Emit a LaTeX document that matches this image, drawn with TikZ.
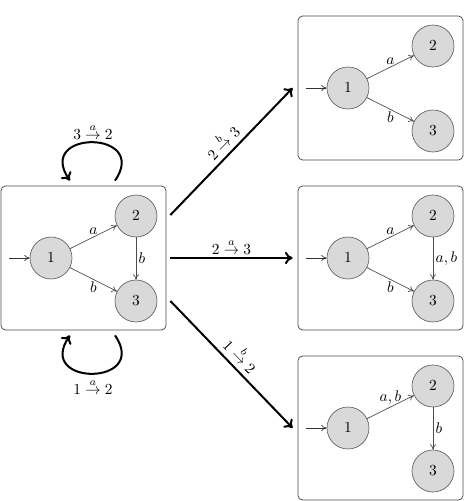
\documentclass[tikz,border=0pt]{standalone}
\usetikzlibrary{arrows.meta,calc}
\begin{document}
\begin{tikzpicture}[x=0.65pt,y=-0.65pt,
  st/.style={circle,draw=black!65,fill=gray!30,minimum size=27.3pt,inner sep=0pt},
  tr/.style={draw=black!70,-{To[length=3.5pt,width=4pt]},line width=0.45pt},
  ini/.style={draw=black!80,-{To[length=3.5pt,width=4pt]},line width=0.45pt},
  box/.style={draw=black!70,rounded corners=3pt,minimum width=107.25pt,minimum height=93.6pt,inner sep=0pt,line width=0.5pt},
  big/.style={draw=black,line width=1.3pt,-{To[length=5pt,width=8pt]}},
  lab/.style={inner sep=1.5pt,font=\normalsize},
  slab/.style={inner sep=3pt,font=\normalsize}]
\useasboundingbox (0,0) rectangle (467,501);
% boxes
\node[box] (L) at (83.5,258) {};
\node[box] (A) at (380.5,88) {};
\node[box] (B) at (380.5,258) {};
\node[box] (C) at (380.5,428) {};
% left automaton
\node[st] (L1) at (51,258) {$1$};
\node[st] (L2) at (136,216) {$2$};
\node[st] (L3) at (136,301) {$3$};
\coordinate (L0) at (9,258);
\draw[ini] (L0) -- (L1);
\draw[tr] (L1) -- node[lab,above] {$a$} (L2);
\draw[tr] (L1) -- node[lab,below] {$b$} (L3);
\draw[tr] (L2) -- node[lab,right] {$b$} (L3);
% top right automaton
\node[st] (A1) at (348,88) {$1$};
\node[st] (A2) at (433,46) {$2$};
\node[st] (A3) at (433,131) {$3$};
\coordinate (A0) at (306,88);
\draw[ini] (A0) -- (A1);
\draw[tr] (A1) -- node[lab,above] {$a$} (A2);
\draw[tr] (A1) -- node[lab,below] {$b$} (A3);
% middle right automaton
\node[st] (B1) at (348,258) {$1$};
\node[st] (B2) at (433,216) {$2$};
\node[st] (B3) at (433,301) {$3$};
\coordinate (B0) at (306,258);
\draw[ini] (B0) -- (B1);
\draw[tr] (B1) -- node[lab,above] {$a$} (B2);
\draw[tr] (B1) -- node[lab,below] {$b$} (B3);
\draw[tr] (B2) -- node[lab,right] {$a,b$} (B3);
% bottom right automaton
\node[st] (C1) at (348,428) {$1$};
\node[st] (C2) at (433,386) {$2$};
\node[st] (C3) at (433,471) {$3$};
\coordinate (C0) at (306,428);
\draw[ini] (C0) -- (C1);
\draw[tr] (C1) -- node[lab,above] {$a,b$} (C2);
\draw[tr] (C2) -- node[lab,right] {$b$} (C3);
% big arrows
\draw[big] ([xshift=2.6pt,yshift=27.95pt]L.east) -- node[slab,above,sloped] {$2 \stackrel{b}{\to} 3$} ([xshift=-3.25pt]A.west);
\draw[big] ([xshift=2.6pt]L.east) -- node[lab,above] {$2 \stackrel{a}{\to} 3$} ([xshift=-3.25pt]B.west);
\draw[big] ([xshift=2.6pt,yshift=-27.95pt]L.east) -- node[slab,above,sloped] {$1 \stackrel{b}{\to} 2$} ([xshift=-3.25pt]C.west);
% loops
\coordinate (T1) at ([xshift=20.5pt,yshift=3.25pt]L.north);
\coordinate (T2) at ([xshift=-8.8pt,yshift=3.25pt]L.north);
\coordinate (S1) at ([xshift=20.5pt,yshift=-3.25pt]L.south);
\coordinate (S2) at ([xshift=-8.8pt,yshift=-3.25pt]L.south);
\draw[big] (T1) .. controls +(35,-51) and +(-35,-51) .. (T2);
\draw[big] (S1) .. controls +(35,51) and +(-35,51) .. (S2);
\node[lab] (TL) at (93,132) {$3 \stackrel{a}{\to} 2$};
\node[lab] (SL) at (93,387) {$1 \stackrel{a}{\to} 2$};
\end{tikzpicture}
\end{document}
